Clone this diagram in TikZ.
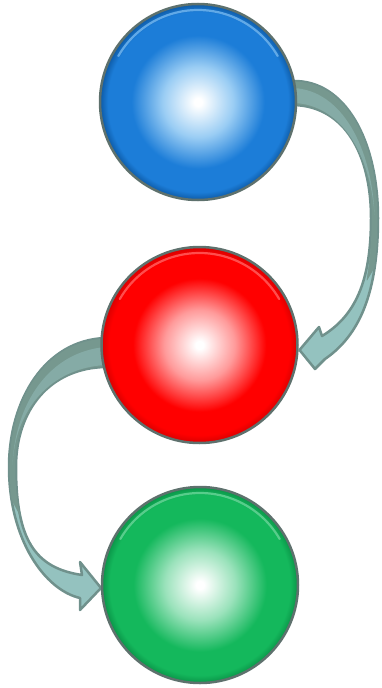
\documentclass[tikz,border=0pt]{standalone}
\usetikzlibrary{calc}
\definecolor{bmain}{HTML}{1C7DD8}
\definecolor{bdark}{HTML}{0D5AA6}
\definecolor{blight}{HTML}{9ACDF4}
\definecolor{rmain}{HTML}{FF0000}
\definecolor{rdark}{HTML}{D80000}
\definecolor{rlight}{HTML}{FF9A9A}
\definecolor{gmain}{HTML}{14B85C}
\definecolor{gdark}{HTML}{0A9448}
\definecolor{glight}{HTML}{9AE2BB}
\definecolor{rim}{HTML}{5E716D}
\definecolor{tealdark}{HTML}{70918C}
\definecolor{tealmid}{HTML}{76988F}
\definecolor{tealband}{HTML}{85ABA6}
\definecolor{teallight}{HTML}{94C2BF}
\pgfdeclareradialshading{blueball}{\pgfpoint{0bp}{0bp}}{color(0bp)=(white); color(1bp)=(white); color(9bp)=(blight); color(17bp)=(bmain); color(23bp)=(bmain); color(25bp)=(bdark); color(50bp)=(bdark)}
\pgfdeclareradialshading{redball}{\pgfpoint{0bp}{0bp}}{color(0bp)=(white); color(1bp)=(white); color(9bp)=(rlight); color(17bp)=(rmain); color(23bp)=(rmain); color(25bp)=(rdark); color(50bp)=(rdark)}
\pgfdeclareradialshading{greenball}{\pgfpoint{0bp}{0bp}}{color(0bp)=(white); color(1bp)=(white); color(9bp)=(glight); color(17bp)=(gmain); color(23bp)=(gmain); color(25bp)=(gdark); color(50bp)=(gdark)}
\tikzset{
  ball/.style={circle, minimum size=196pt, inner sep=0pt, draw=rim, line width=2.5pt},
  ribbon/.style={fill=teallight, draw=tealdark, line width=2.5pt, line join=round},
  backpart/.style={fill=tealmid, draw=tealmid, line width=0.6pt, line join=round},
  band/.style={fill=tealband},
  gloss/.style={line width=2.2pt, line cap=round}
}
\begin{document}
\begin{tikzpicture}[x=1pt,y=-1pt]
\useasboundingbox (0,0) rectangle (382,688);
\coordinate (bc) at (198,102);
\coordinate (rc) at (199.5,345);
\coordinate (gc) at (200,585);
% ---- top arrow: blue -> red
\draw[ribbon] ($(bc)+(95,-21)$) .. controls (345,80) and (378,140) .. (378,218)
  .. controls (378,292) and (360,335) .. (325,359)
  -- (315,369) -- ($(rc)+(100,5)$) -- (319,327) -- (322,336)
  .. controls (355,316) and (371,282) .. (371,218)
  .. controls (371,155) and (345,106) .. ($(bc)+(95,3)$) -- cycle;
% back (dark) half
\fill[backpart] ($(bc)+(95,-20)$) .. controls (345,81) and (377,140) .. (377,218)
  .. controls (377,240) and (376,255) .. (374,268)
  -- (367,280)
  .. controls (370,260) and (372,240) .. (372,218)
  .. controls (372,155) and (345,105) .. ($(bc)+(95,2)$) -- cycle;
% lighter inner band of the back half
\fill[band] ($(bc)+(95,-14)$) .. controls (342,90) and (372,148) .. (374.5,215)
  .. controls (371,158) and (343,104) .. ($(bc)+(95,1)$) -- cycle;
% ---- bottom arrow: red -> green
\draw[ribbon] ($(rc)+(-94,-7)$) .. controls (45,340) and (9,400) .. (9,467)
  .. controls (9,540) and (45,590) .. (80,598)
  -- (80,610) -- ($(gc)+(-99,3)$) -- (80,562) -- (82,575)
  .. controls (35,568) and (16,540) .. (16,467)
  .. controls (16,410) and (50,368) .. ($(rc)+(-94,22)$) -- cycle;
% back (dark) half
\fill[backpart] ($(rc)+(-94,-6)$) .. controls (45,341) and (10,400) .. (10,467)
  .. controls (10,478) and (10,490) .. (12,500)
  -- (20,515)
  .. controls (16,500) and (15,485) .. (15,467)
  .. controls (15,410) and (50,367) .. ($(rc)+(-94,21)$) -- cycle;
% lighter inner band of the back half
\fill[band] ($(rc)+(-94,2)$) .. controls (48,352) and (15,405) .. (12.5,465)
  .. controls (15,410) and (50,368) .. ($(rc)+(-94,20)$) -- cycle;
% ---- spheres
\node[ball, shading=blueball] (b) at (bc) {};
\node[ball, shading=redball] (r) at (rc) {};
\node[ball, shading=greenball] (g) at (gc) {};
% gloss rims
\draw[gloss, draw=blight!55!bmain] ($(b.center)+(-150:92)$) arc[start angle=-150, end angle=-30, radius=92];
\draw[gloss, draw=rlight!50!rmain] ($(r.center)+(-150:92)$) arc[start angle=-150, end angle=-30, radius=92];
\draw[gloss, draw=glight!50!gmain] ($(g.center)+(-150:92)$) arc[start angle=-150, end angle=-30, radius=92];
\end{tikzpicture}
\end{document}
